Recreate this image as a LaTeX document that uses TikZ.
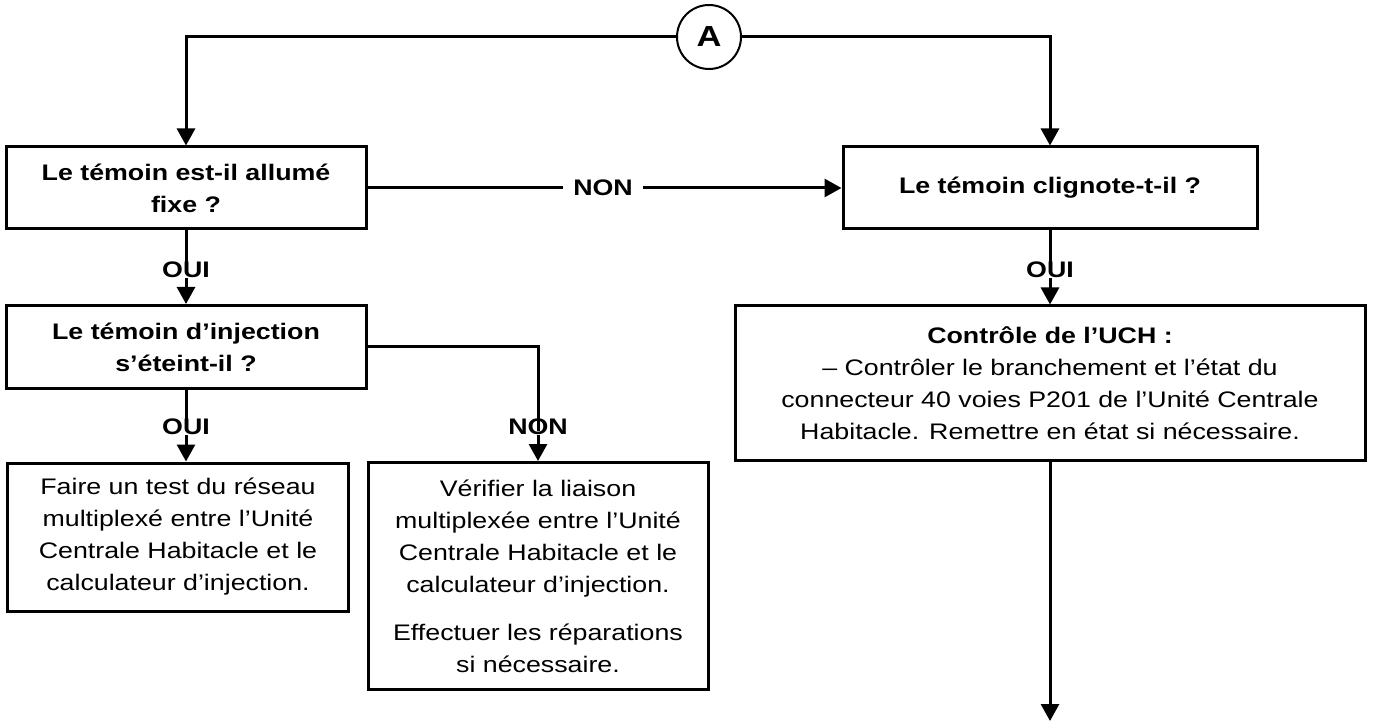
\documentclass[tikz,border=0pt]{standalone}
\usepackage{fontspec}
\setmainfont{Liberation Sans}[FakeStretch=1.19]
\usetikzlibrary{arrows.meta}

\tikzset{
  boite/.style={draw, line width=3pt, align=center, inner sep=4pt, font=\fontsize{22.5}{32}\selectfont},
  question/.style={boite, font=\fontsize{22.5}{32}\selectfont\bfseries},
  reponse/.style={font=\fontsize{22.5}{32}\selectfont\bfseries, inner xsep=10pt, inner ysep=0pt},
  fleche/.style={line width=3pt, -{Triangle[width=18pt,length=17pt]}},
  trait/.style={line width=3pt}
}

\begin{document}
\begin{tikzpicture}[x=1pt, y=-1pt]
    \useasboundingbox (0,0) rectangle (1374,727);

    % Renvoi
    \node[draw, circle, line width=2pt, minimum size=64pt, inner sep=0pt, font=\bfseries\fontsize{29}{29}\selectfont] (ca) at (709,37) {A};

    % Questions
    \node[question, minimum width=360pt, minimum height=82pt] (q1) at (186,188) {Le témoin est-il allumé\\fixe ?};
    \node[question, minimum width=414pt, minimum height=82pt] (q2) at (1050,188) {Le témoin clignote-t-il ?};
    \node[question, minimum width=360pt, minimum height=83pt] (q3) at (186,347) {Le témoin d’injection\\s’éteint-il ?};

    % Actions
    \node[boite, minimum width=630pt, minimum height=154pt] (uch) at (1050,383) {\textbf{Contrôle de l’UCH :}\\– Contrôler le branchement et l’état du\\connecteur 40 voies P201 de l’Unité Centrale\\Habitacle. Remettre en état si nécessaire.};
    \node[boite, minimum width=341pt, minimum height=148pt] (a4) at (178,537) {Faire un test du réseau\\multiplexé entre l’Unité\\Centrale Habitacle et le\\calculateur d’injection.};
    \node[boite, minimum width=340pt, minimum height=227pt] (a5) at (538,576) {Vérifier la liaison\\multiplexée entre l’Unité\\Centrale Habitacle et le\\calculateur d’injection.\\[16pt]Effectuer les réparations\\si nécessaire.};

    % Réponses
    \node[reponse] (non1) at (603,188) {NON};
    \node[reponse] (oui1) at (186,270) {OUI};
    \node[reponse] (oui2) at (1050,270) {OUI};
    \node[reponse] (oui3) at (186,427) {OUI};
    \node[reponse] (non2) at (538,427) {NON};
    \coordinate (fin) at (1050,721);

    % Liaisons
    \draw[fleche] (ca) -| (q1);
    \draw[fleche] (ca) -| (q2);
    \draw[trait] (q1) -- (non1);
    \draw[fleche] (non1) -- (q2);
    \draw[trait] (q1) -- ([yshift=-12pt]oui1.north);
    \draw[fleche] (oui1) -- (q3);
    \draw[trait] (q2) -- ([yshift=-12pt]oui2.north);
    \draw[fleche] (oui2) -- (uch);
    \draw[trait] (q3) -- ([yshift=-12pt]oui3.north);
    \draw[fleche] (oui3) -- (oui3 |- a4.north);
    \draw[trait] (q3) -| ([yshift=-12pt]non2.north);
    \draw[fleche] (non2) -- (a5);
    \draw[fleche] (uch) -- (fin);
\end{tikzpicture}
\end{document}
